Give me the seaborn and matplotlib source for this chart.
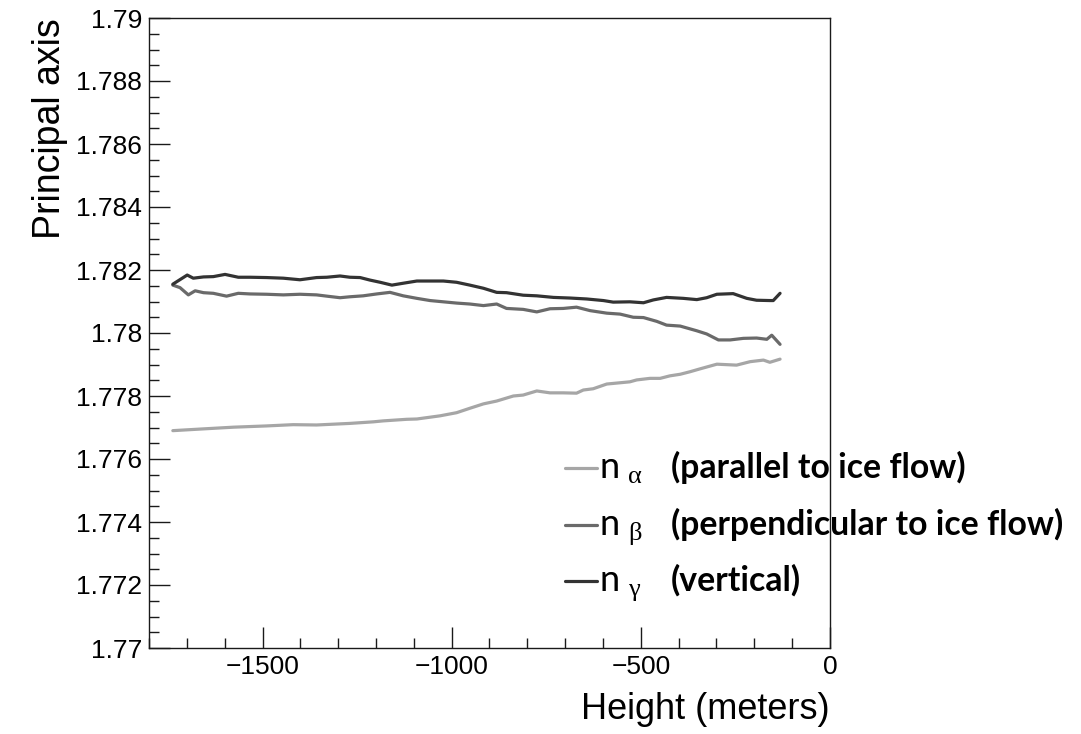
import matplotlib
matplotlib.use("Agg")
import numpy as np
import pandas as pd
import matplotlib.pyplot as plt
import seaborn as sns
from matplotlib.ticker import MultipleLocator, FuncFormatter
from matplotlib.lines import Line2D

# ---------------- data ----------------
height_gamma = [-1737, -1699, -1683, -1656, -1630, -1599, -1564, -1533, -1489, -1445,
                -1401, -1357, -1330, -1295, -1269, -1242, -1216, -1189, -1158, -1128,
                -1092, -1057, -1022, -987, -952, -916, -881, -855, -811, -775,
                -731, -687, -643, -599, -573, -529, -493, -467, -432, -388,
                -352, -326, -299, -256, -220, -194, -159, -150, -132]
n_gamma = [1.78155, 1.78184, 1.78174, 1.78178, 1.78179, 1.78186, 1.78177, 1.78177, 1.78176, 1.78174,
           1.78169, 1.78176, 1.78177, 1.78181, 1.78177, 1.78176, 1.78168, 1.78161, 1.78152, 1.78158,
           1.78165, 1.78165, 1.78165, 1.78161, 1.78152, 1.78142, 1.78129, 1.78128, 1.78120, 1.78118,
           1.78113, 1.78111, 1.78108, 1.78103, 1.78098, 1.78099, 1.78096, 1.78105, 1.78113, 1.78110,
           1.78106, 1.78112, 1.78123, 1.78125, 1.78110, 1.78104, 1.78103, 1.78103, 1.78126]

height_beta = [-1737, -1718, -1696, -1678, -1656, -1630, -1595, -1564, -1533, -1489,
               -1445, -1401, -1357, -1330, -1295, -1269, -1234, -1198, -1163, -1128,
               -1092, -1057, -1022, -987, -952, -916, -881, -855, -811, -775,
               -740, -705, -670, -634, -590, -555, -520, -493, -458, -432,
               -396, -352, -326, -295, -264, -229, -194, -167, -154, -132]
n_beta = [1.78152, 1.78144, 1.78121, 1.78134, 1.78128, 1.78126, 1.78117, 1.78126, 1.78124, 1.78123,
          1.78121, 1.78123, 1.78121, 1.78117, 1.78112, 1.78115, 1.78118, 1.78124, 1.78129, 1.78118,
          1.78110, 1.78103, 1.78099, 1.78095, 1.78092, 1.78087, 1.78092, 1.78078, 1.78075, 1.78067,
          1.78077, 1.78078, 1.78082, 1.78071, 1.78063, 1.78060, 1.78050, 1.78049, 1.78037, 1.78025,
          1.78022, 1.78007, 1.77997, 1.77978, 1.77978, 1.77983, 1.77984, 1.77980, 1.77993, 1.77964]

height_alpha = [-1737, -1665, -1577, -1489, -1419, -1357, -1269, -1207, -1181, -1119,
                -1092, -1031, -987, -952, -916, -881, -837, -811, -775, -740,
                -705, -670, -652, -626, -590, -555, -529, -511, -476, -449,
                -423, -396, -370, -344, -299, -264, -247, -211, -176, -159, -132]
n_alpha = [1.77690, 1.77695, 1.77701, 1.77705, 1.77709, 1.77708, 1.77713, 1.77718, 1.77721, 1.77726,
           1.77727, 1.77737, 1.77747, 1.77761, 1.77775, 1.77784, 1.77800, 1.77803, 1.77816, 1.77810,
           1.77810, 1.77809, 1.77819, 1.77823, 1.77838, 1.77842, 1.77845, 1.77851, 1.77856, 1.77856,
           1.77864, 1.77869, 1.77877, 1.77886, 1.77901, 1.77899, 1.77898, 1.77909, 1.77914, 1.77907, 1.77917]

series_names = ["alpha", "beta", "gamma"]
greek = ["\u03b1", "\u03b2", "\u03b3"]
descriptions = ["(parallel to ice flow)", "(perpendicular to ice flow)", "(vertical)"]
colors = {"alpha": "#a6a6a6", "beta": "#6a6a6a", "gamma": "#333333"}

x_label = "Height (meters)"
y_label = "Principal axis"

# ---------------- build frame ----------------
df = pd.concat([
    pd.DataFrame({"height": height_alpha, "value": n_alpha, "axis": "alpha"}),
    pd.DataFrame({"height": height_beta, "value": n_beta, "axis": "beta"}),
    pd.DataFrame({"height": height_gamma, "value": n_gamma, "axis": "gamma"}),
], ignore_index=True)

sns.set_theme(style="white")
plt.rcParams["font.family"] = ["Liberation Sans", "DejaVu Sans"]
plt.rcParams.update({"text.color": "black", "axes.labelcolor": "black",
                     "xtick.color": "black", "ytick.color": "black"})

W, H = 1081, 734
fig = plt.figure(figsize=(W / 100, H / 100), dpi=100)
ax_l, ax_r, ax_t, ax_b = 149, 830, 18, 648
ax = fig.add_axes([ax_l / W, (H - ax_b) / H, (ax_r - ax_l) / W, (ax_b - ax_t) / H])

sns.lineplot(data=df, x="height", y="value", hue="axis", palette=colors,
             hue_order=series_names, linewidth=2.3, legend=False, ax=ax,
             sort=False, estimator=None)

ax.set_xlim(-1800, 0)
ax.set_ylim(1.77, 1.79)
ax.xaxis.set_major_locator(MultipleLocator(500))
ax.xaxis.set_minor_locator(MultipleLocator(100))
ax.yaxis.set_major_locator(MultipleLocator(0.002))
ax.yaxis.set_minor_locator(MultipleLocator(0.0005))
ax.yaxis.set_major_formatter(FuncFormatter(lambda v, p: f"{v:.3f}".rstrip("0").rstrip(".")))

for sp in ax.spines.values():
    sp.set_visible(True)
    sp.set_color("#1a1a1a")
    sp.set_linewidth(1.0)

ax.tick_params(which="both", direction="in", top=False, right=False,
               left=True, bottom=True, color="#1a1a1a", width=1.0)
ax.tick_params(which="major", length=15, labelsize=19, pad=5, labelcolor="black")
ax.tick_params(which="minor", length=7.5)
ax.grid(False)

ax.set_xlabel(x_label, fontsize=26, loc="right", color="black")
ax.xaxis.set_label_coords(1.0, -(692 - ax_b) / (ax_b - ax_t))
ax.xaxis.label.set_va("top")
ax.set_ylabel(y_label, fontsize=27, loc="top", color="black")
ax.yaxis.set_label_coords((68 - ax_l) / (ax_r - ax_l), 1.0)

# ---------------- legend (keys + labels) ----------------
def fx(px):
    return (px - ax_l) / (ax_r - ax_l)

def fy(py):
    return (ax_b - py) / (ax_b - ax_t)

row_center = [470, 527, 583]
for name, g, desc, yc in zip(series_names, greek, descriptions, row_center):
    ax.add_line(Line2D([fx(565), fx(597)], [fy(yc - 2), fy(yc - 2)], transform=ax.transAxes,
                       color=colors[name], lw=2.3, clip_on=False))
    base = yc + 8
    ax.text(fx(600), fy(base), "n", transform=ax.transAxes, fontsize=26,
            family=["Lato", "DejaVu Sans"], va="baseline", ha="left", clip_on=False,
            color="black")
    ax.text(fx(628), fy(base + 5), g, transform=ax.transAxes, fontsize=19,
            family=["Liberation Serif", "DejaVu Serif"], va="baseline", ha="left", clip_on=False,
            color="black")
    ax.text(fx(671), fy(base), desc, transform=ax.transAxes, fontsize=24.3, fontweight="bold",
            family=["Lato", "DejaVu Sans"], va="baseline", ha="left", clip_on=False,
            color="black")

fig.savefig("out.png", dpi=100)
